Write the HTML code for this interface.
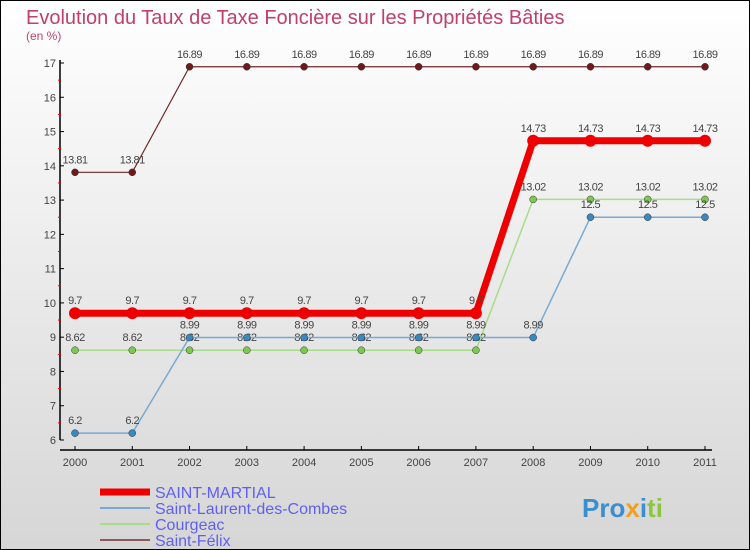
<!DOCTYPE html>
<html><head><meta charset="utf-8"><style>
body{margin:0;width:750px;height:550px;overflow:hidden;font-family:"Liberation Sans",sans-serif}
svg{display:block}
</style></head><body>
<svg id="chart" width="750" height="550" xmlns="http://www.w3.org/2000/svg">
<defs><linearGradient id="bg" x1="0" y1="0" x2="0" y2="1"><stop offset="0" stop-color="#ffffff"/><stop offset="1" stop-color="#d6d6d6"/></linearGradient></defs>
<rect x="0.5" y="0.5" width="749" height="549" fill="url(#bg)" stroke="#000"/>
<text x="26" y="24" font-size="20" fill="#c0406a">Evolution du Taux de Taxe Foncière sur les Propriétés Bâties</text>
<text x="26" y="40" font-size="12" fill="#c0406a">(en %)</text>
<g id="axes"></g>
<g id="series"></g>
<g id="legend"></g>
<text x="582" y="517" font-size="26" font-weight="bold" fill="#3a8fd0">Pro<tspan fill="#f0a020">x</tspan><tspan fill="#3a8fd0">i</tspan><tspan fill="#8cc63f">ti</tspan></text>
</svg>
<script>
const years=[2000,2001,2002,2003,2004,2005,2006,2007,2008,2009,2010,2011];
const yTicks=[6,7,8,9,10,11,12,13,14,15,16,17];
const saintMartial=[9.7,9.7,9.7,9.7,9.7,9.7,9.7,9.7,14.73,14.73,14.73,14.73];
const saintLaurent=[6.2,6.2,8.99,8.99,8.99,8.99,8.99,8.99,8.99,12.5,12.5,12.5];
const courgeac=[8.62,8.62,8.62,8.62,8.62,8.62,8.62,8.62,13.02,13.02,13.02,13.02];
const saintFelix=[13.81,13.81,16.89,16.89,16.89,16.89,16.89,16.89,16.89,16.89,16.89,16.89];
const NS="http://www.w3.org/2000/svg";
const x=i=>75+i*(705-75)/11;
const y=v=>440-(v-6)*(440-63)/11;
function mk(t,a,p){const e=document.createElementNS(NS,t);for(const k in a)e.setAttribute(k,a[k]);p.appendChild(e);return e;}
const ax=document.getElementById('axes');
let e=mk('line',{x1:60,y1:60,x2:60,y2:440,stroke:'#000','stroke-width':1.5},ax);


e=mk('line',{x1:60,y1:450,x2:712,y2:450,stroke:'#000','stroke-width':1.5},ax);


yTicks.forEach(v=>{
 mk('line',{x1:60,y1:y(v),x2:64,y2:y(v),stroke:'#000'},ax);
 if(v<17)mk('line',{x1:58,y1:y(v+0.5),x2:61,y2:y(v+0.5),stroke:'#e00'},ax);
 const t=mk('text',{x:56,y:y(v)+4,'font-size':11,'text-anchor':'end',fill:'#444'},ax);t.textContent=v;
 
 
});
years.forEach((yr,i)=>{
 mk('line',{x1:x(i),y1:446,x2:x(i),y2:450,stroke:'#000'},ax);
 const t=mk('text',{x:x(i),y:466,'font-size':11,'text-anchor':'middle',fill:'#444'},ax);t.textContent=yr;
 
 
});
const sg=document.getElementById('series');
const defs=[
 [saintFelix,'#6e2a2a',1.2,3.5,'#6e1a1a','saint-felix'],
 [courgeac,'#a8dc88',1.5,3.5,'#7cc850','courgeac'],
 [saintLaurent,'#78aad2',1.5,3.5,'#3a88c0','saint-laurent'],
 [saintMartial,'#ee0000',7,6,'#ee0000','saint-martial']
];
defs.forEach(([d,c,w,r,mc,n])=>{
 const g=mk('g',{},sg);
 
 
 const p=mk('polyline',{points:d.map((v,i)=>x(i)+','+y(v)).join(' '),fill:'none',stroke:c,'stroke-width':w},g);
 
 
 d.forEach((v,i)=>{
  const ci=mk('circle',{cx:x(i),cy:y(v),r:r,fill:mc,stroke:n==='saint-martial'?'none':'#333','stroke-width':0.5},g);
  
  
  const t=mk('text',{x:x(i),y:y(v)-9,'font-size':11,'text-anchor':'middle',fill:'#444','letter-spacing':'-0.5'},g);
  t.textContent=v;
  
  
 });
});
const lg=document.getElementById('legend');
const items=[['SAINT-MARTIAL','#ee0000',7],['Saint-Laurent-des-Combes','#78aad2',2],['Courgeac','#a8dc88',2],['Saint-Félix','#8a5a5a',2]];
items.forEach(([l,c,w],i)=>{
 const yy=492+i*16;
 const li=mk('line',{x1:100,y1:yy,x2:150,y2:yy,stroke:c,'stroke-width':w},lg);
 
 
 const t=mk('text',{x:155,y:yy+6,'font-size':16,fill:'#6060f0'},lg);t.textContent=l;
 
 
});
</script>
</body></html>
